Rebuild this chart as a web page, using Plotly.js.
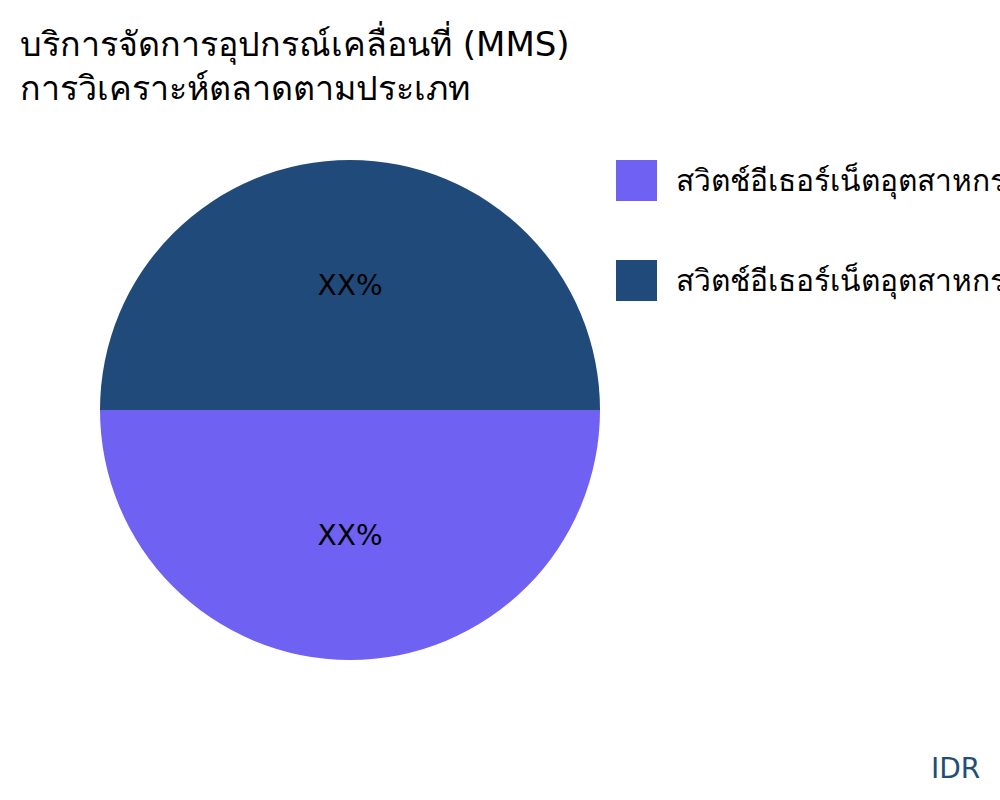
<!DOCTYPE html>
<html>
<head>
<meta charset="utf-8">
<script src="https://cdn.plot.ly/plotly-3.0.1.min.js"></script>
<style>html,body{margin:0;padding:0;background:#fff;}#chart{width:1000px;height:800px;}</style>
</head>
<body>
<div id="chart"></div>
<script>
var categories = [
  "สวิตช์อีเธอร์เน็ตอุตสาหกรรมแบบมีการจัดการ",
  "สวิตช์อีเธอร์เน็ตอุตสาหกรรมแบบไม่มีการจัดการ"
];
var values = [50, 50];
var sliceLabels = ["XX%", "XX%"];
var colors = ["#6F61F1", "#1F4A7A"];
var titleLines = ["บริการจัดการอุปกรณ์เคลื่อนที่ (MMS)", "การวิเคราะห์ตลาดตามประเภท"];
var sourceLabel = "IDR";

var FONT = "DejaVu Sans, Noto Sans, sans-serif";

var trace = {
  type: "pie",
  labels: categories,
  values: values,
  text: sliceLabels,
  texttemplate: "%{text}",
  textinfo: "text",
  textposition: "inside",
  insidetextorientation: "auto",
  insidetextfont: {family: FONT, size: 28, color: "#000"},
  marker: {colors: colors, line: {width: 0}},
  sort: false,
  direction: "clockwise",
  rotation: 90,
  hoverinfo: "label+percent",
  showlegend: false
};

var shapes = [];
var annotations = [];
var legendTops = [160, 260];
for (var i = 0; i < categories.length; i++) {
  var yTop = legendTops[i];
  shapes.push({
    type: "rect", xref: "paper", yref: "paper",
    x0: (616 - 100) / 500, x1: (657 - 100) / 500,
    y0: (660 - yTop) / 500, y1: (660 - yTop - 41) / 500,
    fillcolor: colors[i], line: {width: 0}
  });
  annotations.push({
    xref: "paper", yref: "paper",
    x: (674 - 100) / 500, y: (660 - yTop - 21) / 500,
    xanchor: "left", yanchor: "middle",
    text: categories[i], showarrow: false,
    font: {family: FONT, size: 30, color: "#000"}
  });
}
annotations.push({
  xref: "paper", yref: "paper",
  x: (982 - 100) / 500, y: (660 - 768) / 500,
  xanchor: "right", yanchor: "middle",
  text: sourceLabel, showarrow: false,
  font: {family: FONT, size: 28, color: "#1F4E79"}
});

var layout = {
  width: 1000, height: 800,
  margin: {l: 100, r: 400, t: 160, b: 140},
  paper_bgcolor: "#fff",
  plot_bgcolor: "#fff",
  font: {family: FONT},
  title: {
    text: titleLines.join("<br>"),
    x: 0.02, xref: "container", xanchor: "left",
    y: 0.93, yref: "container", yanchor: "top",
    font: {family: FONT, size: 34, color: "#000"}
  },
  showlegend: false,
  shapes: shapes,
  annotations: annotations
};

Plotly.newPlot("chart", [trace], layout, {displayModeBar: false});
</script>
</body>
</html>
